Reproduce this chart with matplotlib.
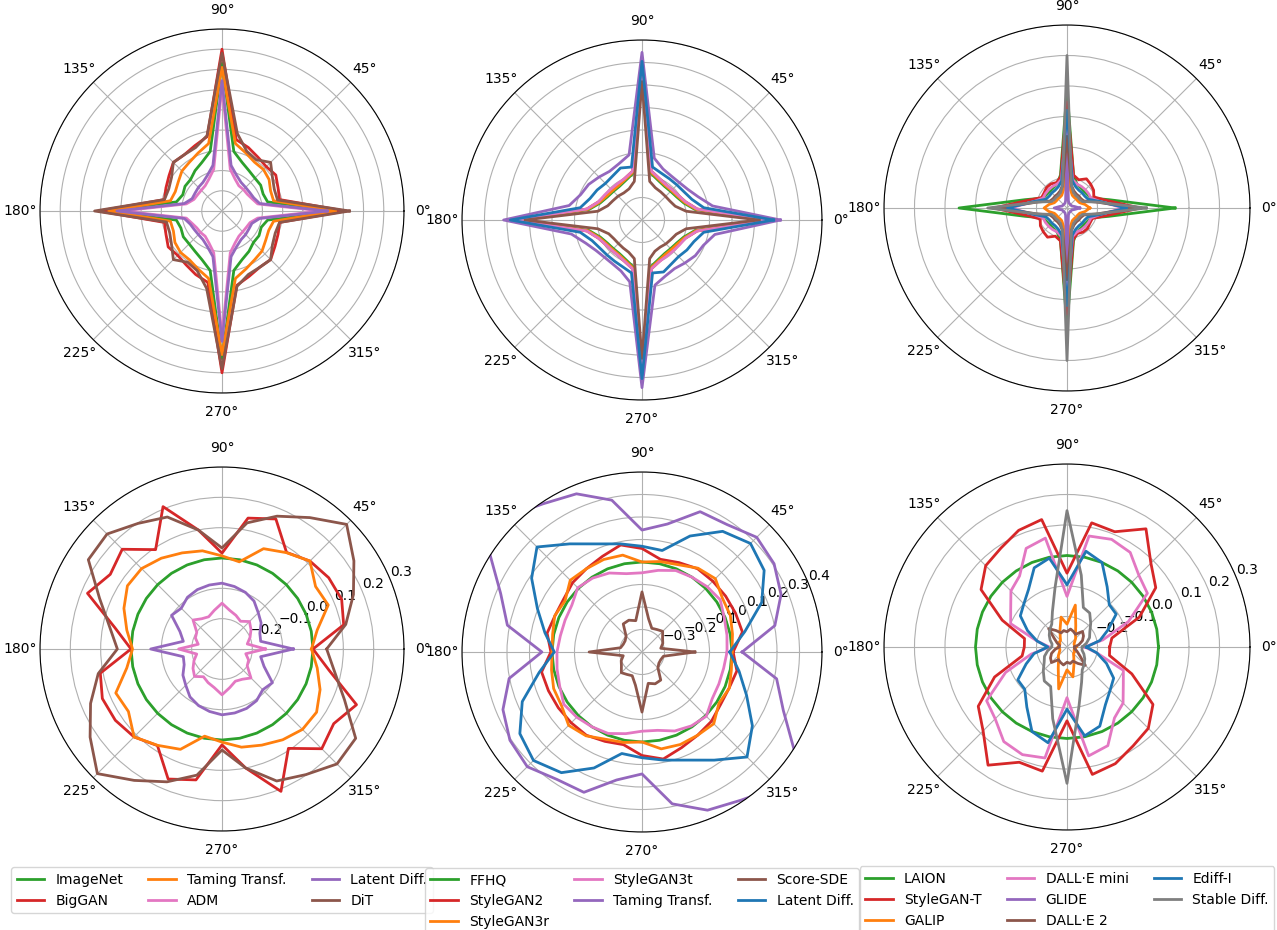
import numpy as np
import matplotlib
matplotlib.use("Agg")
from matplotlib import pyplot as plt

# half circle angles in degrees, the other half repeats (the spectra are point symmetric)
angles = [0, 11.25, 22.5, 33.75, 45, 56.25, 67.5, 78.75, 90,
          101.25, 112.5, 123.75, 135, 146.25, 157.5, 168.75]

# ImageNet group
imagenet_names = ["ImageNet", "BigGAN", "Taming Transf.", "ADM", "Latent Diff.", "DiT"]
imagenet_colors = ["tab:green", "tab:red", "tab:orange", "tab:pink", "tab:purple", "tab:brown"]
imagenet_spec = [
    [5.9, 2.3, 2.2, 2.3, 2.3, 2.4, 2.6, 3.0, 7.3, 3.0, 2.6, 2.4, 2.2, 2.2, 2.1, 2.3],
    [6.1, 2.9, 3.0, 3.2, 3.1, 3.2, 3.4, 3.6, 8.0, 3.75, 3.5, 3.35, 3.4, 3.15, 3.0, 2.9],
    [5.6, 2.6, 2.6, 2.8, 2.9, 2.9, 3.1, 3.4, 7.1, 3.4, 3.1, 2.9, 2.8, 2.6, 2.5, 2.6],
    [4.95, 1.8, 1.6, 1.5, 1.5, 1.5, 1.7, 2.1, 6.2, 2.1, 1.7, 1.5, 1.45, 1.45, 1.5, 1.8],
    [5.2, 1.9, 1.7, 1.65, 1.65, 1.7, 1.9, 2.3, 6.45, 2.3, 1.9, 1.7, 1.65, 1.6, 1.6, 1.9],
    [6.3, 2.8, 2.8, 3.0, 3.4, 3.05, 3.2, 3.9, 7.8, 3.8, 3.4, 3.35, 3.4, 3.0, 2.85, 2.9],
]
imagenet_diff = [
    [0.0] * 16,
    [0.0, 0.109, 0.127, 0.123, 0.11, 0.083, 0.164, 0.14, 0.016, 0.10, 0.208, 0.094, 0.165, 0.143, 0.18, 0.06],
    [-0.005, 0.02, 0.079, 0.071, 0.11, 0.082, 0.058, -0.007, 0.007, 0.03, 0.043, 0.06, 0.075, 0.075, 0.05, 0.02],
    [-0.157, -0.215, -0.2, -0.185, -0.172, -0.19, -0.18, -0.17, -0.149, -0.17, -0.185, -0.18, -0.165, -0.2, -0.205, -0.22],
    [-0.065, -0.17, -0.165, -0.145, -0.131, -0.11, -0.098, -0.09, -0.083, -0.085, -0.088, -0.095, -0.11, -0.1, -0.15, -0.17],
    [0.045, 0.116, 0.169, 0.223, 0.281, 0.221, 0.174, 0.124, 0.033, 0.10, 0.171, 0.198, 0.236, 0.23, 0.137, 0.078],
]

# FFHQ group
ffhq_names = ["FFHQ", "StyleGAN2", "StyleGAN3r", "StyleGAN3t", "Taming Transf.", "Score-SDE", "Latent Diff."]
ffhq_colors = ["tab:green", "tab:red", "tab:orange", "tab:pink", "tab:purple", "tab:brown", "tab:blue"]
ffhq_spec = [
    [5.65, 2.4, 2.0, 1.85, 1.8, 1.8, 1.9, 2.1, 6.8, 2.1, 1.9, 1.8, 1.8, 1.85, 2.0, 2.4],
    [5.75, 2.5, 2.1, 1.95, 1.9, 1.9, 2.0, 2.2, 6.9, 2.2, 2.0, 1.9, 1.9, 1.95, 2.1, 2.5],
    [5.7, 2.45, 2.05, 1.9, 1.85, 1.85, 1.95, 2.15, 6.85, 2.15, 1.95, 1.85, 1.85, 1.9, 2.05, 2.45],
    [5.7, 2.5, 2.1, 1.95, 1.9, 1.9, 2.0, 2.2, 6.95, 2.2, 2.0, 1.95, 1.95, 2.0, 2.1, 2.5],
    [6.15, 3.2, 2.7, 2.45, 2.35, 2.35, 2.45, 2.8, 7.45, 2.95, 2.7, 2.6, 2.7, 2.85, 2.95, 3.3],
    [5.2, 2.0, 1.6, 1.5, 1.48, 1.5, 1.55, 1.75, 6.15, 1.75, 1.5, 1.45, 1.5, 1.55, 1.65, 2.0],
    [5.85, 2.8, 2.4, 2.25, 2.2, 2.2, 2.25, 2.4, 7.05, 2.4, 2.5, 2.35, 2.3, 2.4, 2.5, 2.8],
]
ffhq_diff = [
    [0.0] * 16,
    [0.005, 0.055, 0.05, 0.047, 0.045, 0.045, 0.03, 0.02, 0.06, 0.085, 0.06, 0.045, 0.036, 0.02, 0.019, 0.03],
    [0.0, 0.01, 0.025, 0.03, 0.061, 0.048, 0.02, 0.01, 0.0, 0.039, 0.045, 0.045, 0.051, 0.011, 0.02, 0.005],
    [-0.022, -0.015, -0.004, 0.018, 0.01, 0.0, -0.008, -0.03, -0.048, -0.045, -0.02, -0.005, 0.004, -0.025, -0.03, -0.03],
    [0.045, 0.202, 0.269, 0.306, 0.321, 0.281, 0.275, 0.18, 0.142, 0.288, 0.361, 0.392, 0.45, 0.42, 0.28, 0.21],
    [-0.165, -0.315, -0.3, -0.29, -0.27, -0.28, -0.286, -0.25, -0.133, -0.258, -0.247, -0.25, -0.3, -0.31, -0.31, -0.303],
    [-0.01, 0.066, 0.176, 0.253, 0.282, 0.245, 0.158, 0.06, 0.07, 0.09, 0.12, 0.178, 0.26, 0.19, 0.103, 0.04],
]

# LAION group
laion_names = ["LAION", "StyleGAN-T", "GALIP", "DALL·E mini", "GLIDE", "DALL·E 2", "Ediff-I", "Stable Diff."]
laion_colors = ["tab:green", "tab:red", "tab:orange", "tab:pink", "tab:purple", "tab:brown", "tab:blue", "tab:gray"]
laion_spec = [
    [3.54, 1.4, 0.85, 0.8, 0.78, 0.8, 0.85, 1.1, 3.86, 1.1, 0.85, 0.8, 0.78, 0.8, 0.85, 1.4],
    [2.4, 1.3, 0.95, 1.05, 1.1, 1.15, 1.0, 1.1, 3.48, 1.05, 0.9, 0.95, 0.95, 0.9, 0.9, 1.3],
    [0.75, 0.6, 0.45, 0.42, 0.42, 0.42, 0.45, 0.6, 2.45, 0.6, 0.45, 0.42, 0.42, 0.42, 0.45, 0.6],
    [1.85, 1.1, 0.85, 0.85, 0.85, 0.85, 0.85, 0.95, 2.9, 0.95, 0.85, 0.85, 0.85, 0.85, 0.85, 1.1],
    [0.42, 0.25, 0.17, 0.16, 0.16, 0.16, 0.17, 0.24, 1.8, 0.24, 0.17, 0.16, 0.16, 0.16, 0.17, 0.25],
    [2.2, 1.0, 0.6, 0.55, 0.55, 0.55, 0.6, 0.75, 2.35, 0.75, 0.6, 0.55, 0.55, 0.55, 0.6, 1.0],
    [1.95, 1.1, 0.75, 0.7, 0.7, 0.7, 0.75, 0.9, 3.2, 0.9, 0.75, 0.7, 0.7, 0.7, 0.75, 1.1],
    [2.6, 1.0, 0.55, 0.5, 0.5, 0.5, 0.55, 0.75, 5.0, 0.75, 0.55, 0.5, 0.5, 0.5, 0.55, 1.0],
]
laion_diff = [
    [0.0] * 16,
    [-0.16, -0.15, -0.043, 0.05, 0.089, 0.166, 0.109, 0.115, -0.058, 0.126, 0.114, 0.09, 0.077, 0.039, -0.07, -0.158],
    [-0.27, -0.275, -0.275, -0.27, -0.26, -0.25, -0.225, -0.16, -0.225, -0.2, -0.24, -0.26, -0.27, -0.27, -0.275, -0.275],
    [-0.242, -0.18, -0.082, 0.017, 0.033, 0.073, 0.082, 0.071, -0.134, 0.064, 0.05, -0.02, -0.04, -0.078, -0.1, -0.2],
    [-0.92, -0.72, -0.7, -0.71, -0.7, -0.71, -0.7, -0.66, -0.33, -0.66, -0.7, -0.71, -0.7, -0.71, -0.7, -0.72],
    [-0.275, -0.26, -0.245, -0.235, -0.228, -0.25, -0.245, -0.24, -0.25, -0.245, -0.25, -0.235, -0.215, -0.25, -0.265, -0.275],
    [-0.237, -0.19, -0.155, -0.106, -0.104, -0.063, 0.0, 0.02, -0.096, -0.003, -0.019, -0.073, -0.1, -0.116, -0.16, -0.2],
    [-0.25, -0.235, -0.22, -0.21, -0.19, -0.166, -0.16, -0.06, 0.147, -0.1, -0.175, -0.21, -0.22, -0.23, -0.24, -0.25],
]


def full_circle(vals):
    # repeat the half circle on the opposite side and close the curve
    th = np.deg2rad(angles + [a + 180 for a in angles] + [360])
    r = list(vals) + list(vals) + [vals[0]]
    return th, r


W, H = 1277, 930
fig = plt.figure(figsize=(W / 100, H / 100), dpi=100)


def polar_at(cx, cy, rad):
    # square polar axes centred on pixel (cx, cy) with radius rad
    return fig.add_axes([(cx - rad) / W, 1 - (cy + rad) / H, 2 * rad / W, 2 * rad / H],
                        projection="polar")


groups = [
    (imagenet_names, imagenet_colors, imagenet_spec, imagenet_diff),
    (ffhq_names, ffhq_colors, ffhq_spec, ffhq_diff),
    (laion_names, laion_colors, laion_spec, laion_diff),
]
top_pos = [(222, 211, 182), (642, 220, 180), (1067, 208, 183)]
bot_pos = [(222, 649, 182), (642, 652, 180), (1067, 647, 183)]
top_lim = [9, 8, 6]
bot_lim = [0.3, 0.4, 0.3]

for i, (names, colors, spec, diff) in enumerate(groups):
    # spectra
    ax = polar_at(*top_pos[i])
    for name, c, vals in zip(names, colors, spec):
        th, r = full_circle(vals)
        ax.plot(th, r, color=c, lw=2, label=name)
    ax.set_ylim(0, top_lim[i])
    ax.set_yticks(range(1, top_lim[i] + 1))
    ax.set_yticklabels([])

    # difference to the real dataset
    ax2 = polar_at(*bot_pos[i])
    for name, c, vals in zip(names, colors, diff):
        th, r = full_circle(vals)
        ax2.plot(th, r, color=c, lw=2, label=name)
    lim = bot_lim[i]
    ax2.set_ylim(-lim, lim)
    ax2.set_yticks(np.round(np.arange(-lim + 0.1, lim + 0.01, 0.1), 1))
    ax2.legend(loc="upper center", bbox_to_anchor=(0.5, -0.08), ncol=3, columnspacing=1.8)

plt.savefig("out.png", dpi=100)
